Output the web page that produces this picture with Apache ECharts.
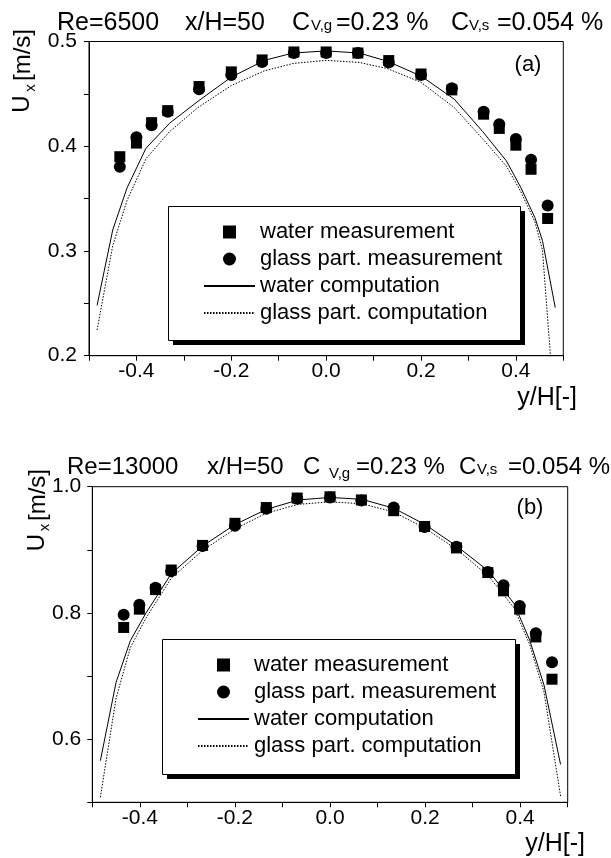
<!DOCTYPE html>
<html><head><meta charset="utf-8">
<script src="https://cdn.jsdelivr.net/npm/echarts@6/dist/echarts.min.js"></script>
<style>html,body{margin:0;padding:0;background:#fff}#c{width:611px;height:858px}</style>
</head><body><div id="c"></div>
<script>
// ---------- data ----------
const seriesNames = ['water measurement', 'glass part. measurement', 'water computation', 'glass part. computation'];

// (a) Re=6500
const xMeasA = [-0.435, -0.4, -0.368, -0.334, -0.268, -0.2, -0.135, -0.068, 0, 0.067, 0.132, 0.2, 0.265, 0.332, 0.365, 0.4, 0.432, 0.467];
const waterMeasA = [0.390, 0.403, 0.4225, 0.434, 0.457, 0.471, 0.4824, 0.490, 0.490, 0.489, 0.4818, 0.469, 0.4538, 0.4306, 0.417, 0.401, 0.378, 0.331];
const glassMeasA = [0.3805, 0.4086, 0.420, 0.433, 0.4545, 0.468, 0.4805, 0.489, 0.489, 0.489, 0.480, 0.468, 0.4554, 0.433, 0.421, 0.407, 0.387, 0.3433];
const xCompA = [-0.483, -0.45, -0.42, -0.38, -0.33, -0.27, -0.2, -0.13, -0.07, 0, 0.07, 0.13, 0.2, 0.27, 0.33, 0.38, 0.41, 0.44, 0.456, 0.483];
const waterCompA = [0.248, 0.320, 0.360, 0.398, 0.422, 0.443, 0.466, 0.482, 0.489, 0.491, 0.489, 0.481, 0.467, 0.445, 0.414, 0.386, 0.361, 0.332, 0.310, 0.246];
const glassCompA = [0.2245, 0.305, 0.348, 0.388, 0.414, 0.437, 0.458, 0.472, 0.479, 0.482, 0.480, 0.474, 0.461, 0.437, 0.407, 0.381, 0.357, 0.328, 0.301, 0.14];

// (b) Re=13000
const xMeasB = [-0.434, -0.401, -0.367, -0.334, -0.268, -0.2, -0.134, -0.069, 0, 0.066, 0.134, 0.199, 0.266, 0.332, 0.365, 0.399, 0.433, 0.467];
const waterMeasB = [0.777, 0.806, 0.837, 0.868, 0.907, 0.942, 0.967, 0.982, 0.984, 0.979, 0.962, 0.937, 0.903, 0.864, 0.835, 0.806, 0.762, 0.695];
const glassMeasB = [0.797, 0.813, 0.840, 0.866, 0.906, 0.938, 0.965, 0.981, 0.983, 0.978, 0.967, 0.936, 0.905, 0.865, 0.844, 0.811, 0.768, 0.722];
const xCompB = [-0.483, -0.45, -0.42, -0.387, -0.334, -0.268, -0.2, -0.134, -0.067, 0, 0.067, 0.134, 0.2, 0.268, 0.334, 0.387, 0.42, 0.45, 0.485];
const waterCompB = [0.566, 0.69, 0.756, 0.80, 0.862, 0.906, 0.94, 0.964, 0.979, 0.983, 0.980, 0.966, 0.94, 0.905, 0.866, 0.815, 0.757, 0.686, 0.56];
const glassCompB = [0.508, 0.665, 0.745, 0.792, 0.855, 0.899, 0.933, 0.958, 0.972, 0.976, 0.973, 0.96, 0.934, 0.9, 0.858, 0.808, 0.75, 0.675, 0.51];

// axis settings
const xRange = [-0.5, 0.5];
const yRangeA = [0.2, 0.5];
const yRangeB = [0.5, 1.0];

// ---------- chart ----------
const FAM = '"Liberation Sans", Arial, Helvetica, sans-serif';
const chart = echarts.init(document.getElementById('c'), null, { renderer: 'canvas' });
const pairs = (xs, ys) => xs.map((x, i) => [x, ys[i]]);
const SQUARE = 'path://M0,0H10V10H0Z';

function xAxisCfg(gi) {
  return {
    type: 'value', gridIndex: gi, min: xRange[0], max: xRange[1], interval: 0.1,
    axisLine: { show: true, onZero: false, lineStyle: { color: '#000', width: 1 } },
    axisTick: { show: true, inside: false, length: 5, lineStyle: { color: '#000' } },
    splitLine: { show: false },
    axisLabel: {
      margin: 5, color: '#000', fontSize: 21, fontFamily: FAM,
      formatter: v => { const k = Math.round(v * 10); return (k % 2 === 0 && Math.abs(k) < 5) ? (k / 10).toFixed(1) : ''; }
    }
  };
}
function yAxisCfg(gi, rng, interval, margin) {
  return {
    type: 'value', gridIndex: gi, min: rng[0], max: rng[1], interval: interval,
    axisLine: { show: true, onZero: false, lineStyle: { color: '#000', width: 1 } },
    axisTick: { show: true, inside: false, length: 5, lineStyle: { color: '#000' } },
    splitLine: { show: false },
    axisLabel: {
      margin: margin, color: '#000', fontSize: 21, fontFamily: FAM,
      formatter: v => { const k = Math.round(v / interval); return (k % 2 === 0) ? v.toFixed(1) : ''; }
    }
  };
}
function seriesFor(gi, xm, wm, gm, xc, wc, gc) {
  return [
    { name: seriesNames[0], type: 'scatter', xAxisIndex: gi, yAxisIndex: gi, symbol: 'rect', symbolSize: 11, itemStyle: { color: '#000', opacity: 1 }, data: pairs(xm, wm), z: 3 },
    { name: seriesNames[1], type: 'scatter', xAxisIndex: gi, yAxisIndex: gi, symbol: 'circle', symbolSize: 12, itemStyle: { color: '#000', opacity: 1 }, data: pairs(xm, gm), z: 4 },
    { name: seriesNames[2], type: 'line', xAxisIndex: gi, yAxisIndex: gi, symbol: 'none', showSymbol: false, clip: true, lineStyle: { color: '#000', width: 1, type: 'solid' }, itemStyle: { color: '#000' }, data: pairs(xc, wc), z: 2 },
    { name: seriesNames[3], type: 'line', xAxisIndex: gi, yAxisIndex: gi, symbol: 'none', showSymbol: false, clip: true, lineStyle: { color: '#000', width: 1, type: [1.5, 1.5] }, itemStyle: { color: '#000' }, data: pairs(xc, gc), z: 2 }
  ];
}
const hiddenSym = { opacity: 0, color: 'rgba(0,0,0,0)', borderWidth: 0 };
function legendCfg(left, top) {
  return {
    data: [
      { name: seriesNames[0], icon: SQUARE, itemStyle: { color: '#000', opacity: 1 } },
      { name: seriesNames[1], icon: 'circle', itemStyle: { color: '#000', opacity: 1 } },
      { name: seriesNames[2], itemStyle: hiddenSym },
      { name: seriesNames[3], itemStyle: hiddenSym }
    ],
    orient: 'vertical', left: left, top: top, z: 10,
    itemWidth: 51, itemHeight: 13, itemGap: 5, symbolKeepAspect: true,
    padding: [15, 20, 15, 35],
    backgroundColor: 'transparent', borderWidth: 0,
    selectedMode: false,
    textStyle: { fontSize: 22, fontFamily: FAM, color: '#000', lineHeight: 22 }
  };
}
function txt(x, y, text, size, opts) {
  opts = opts || {};
  return {
    type: 'text', x: x, y: y, rotation: opts.rot || 0, z: 100,
    style: { text: text, font: size + 'px ' + FAM, fill: '#000', align: opts.align || 'left', verticalAlign: 'middle' }
  };
}
function legendBox(x, y, w, h) {
  return [
    { type: 'rect', z: 5, shape: { x: x + 5, y: y + 5, width: w, height: h }, style: { fill: '#000' } },
    { type: 'rect', z: 6, shape: { x: x + 0.5, y: y + 0.5, width: w, height: h }, style: { fill: '#fff', stroke: '#000', lineWidth: 1 } }
  ];
}
const R = Math.PI / 2;

chart.setOption({
  animation: false,
  backgroundColor: '#fff',
  grid: [
    { left: 89, top: 41.5, right: 47.7, height: 314.2, show: true, borderColor: '#000', borderWidth: 1, backgroundColor: 'transparent' },
    { left: 92.3, top: 486.7, right: 43.3, height: 315.6, show: true, borderColor: '#000', borderWidth: 1, backgroundColor: 'transparent' }
  ],
  xAxis: [xAxisCfg(0), xAxisCfg(1)],
  yAxis: [yAxisCfg(0, yRangeA, 0.05, 12), yAxisCfg(1, yRangeB, 0.1, 11)],
  legend: [legendCfg(168, 206), legendCfg(162, 639)],
  series: [].concat(
    seriesFor(0, xMeasA, waterMeasA, glassMeasA, xCompA, waterCompA, glassCompA),
    seriesFor(1, xMeasB, waterMeasB, glassMeasB, xCompB, waterCompB, glassCompB)
  ),
  graphic: [].concat(
    legendBox(168, 206, 352, 134),
    legendBox(162, 639, 353, 135),
    [
      // title (a)
      txt(57, 23.5, 'Re=6500', 25),
      txt(185, 23.5, 'x/H=50', 25),
      txt(292, 23.5, 'C', 25),
      txt(311, 26, 'V,g', 15),
      txt(336, 23.5, '=0.23 %', 25),
      txt(451, 23.5, 'C', 25),
      txt(469, 26, 'V,s', 15),
      txt(497, 23.5, '=0.054 %', 25),
      txt(528, 65, '(a)', 22, { align: 'center' }),
      // y name (a)
      txt(22.5, 104, 'U', 24, { rot: R, align: 'center' }),
      txt(31, 88, 'x', 15, { rot: R, align: 'center' }),
      txt(23, 55, '[m/s]', 24, { rot: R, align: 'center' }),
      txt(577, 398, 'y/H[-]', 25, { align: 'right' }),
      // title (b)
      txt(67, 467, 'Re=13000', 24),
      txt(207, 467, 'x/H=50', 24),
      txt(303, 467, 'C', 24),
      txt(329, 474, 'V,g', 15),
      txt(356, 467, '=0.23 %', 24),
      txt(459, 467, 'C', 24),
      txt(477, 470, 'V,s', 15),
      txt(508, 467, '=0.054 %', 24),
      txt(530, 508, '(b)', 22, { align: 'center' }),
      // y name (b)
      txt(37, 542.5, 'U', 24, { rot: R, align: 'center' }),
      txt(45, 527.5, 'x', 15, { rot: R, align: 'center' }),
      txt(38, 495, '[m/s]', 24, { rot: R, align: 'center' }),
      txt(585, 844, 'y/H[-]', 25, { align: 'right' })
    ]
  )
});
</script></body></html>
